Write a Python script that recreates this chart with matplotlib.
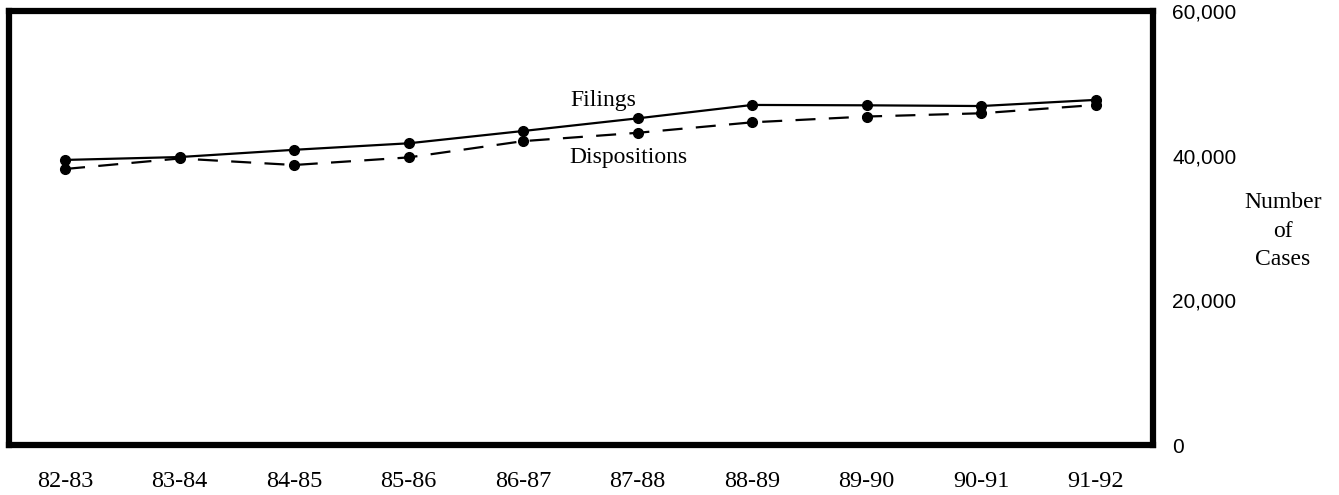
import matplotlib
matplotlib.use("Agg")
import matplotlib.pyplot as plt
from matplotlib.ticker import FuncFormatter

years = ["82-83", "83-84", "84-85", "85-86", "86-87",
         "87-88", "88-89", "89-90", "90-91", "91-92"]
filings = [39400, 39800, 40800, 41700, 43400,
           45150, 47000, 46950, 46850, 47700]
dispositions = [38150, 39600, 38700, 39750, 42000,
                43150, 44600, 45400, 45850, 47000]
y_ticks = [0, 20000, 40000, 60000]

fig = plt.figure(figsize=(13.39, 4.95), dpi=100)
ax = fig.add_axes([0.0067, 0.101, 0.8544, 0.877])

x = list(range(len(years)))
ax.plot(x, filings, color="black", lw=1.6, marker="o", ms=7,
        solid_capstyle="butt")
ax.plot(x, dispositions, color="black", lw=1.6, marker="o", ms=7,
        linestyle=(0, (9, 6)))

ax.set_xlim(-0.49, 9.5)
ax.set_ylim(0, 60000)

ax.set_xticks(x)
ax.set_xticklabels(years, fontfamily="Liberation Serif", fontsize=17.5)
ax.tick_params(axis="x", length=0, pad=19)

ax.yaxis.tick_right()
ax.set_yticks(y_ticks)
ax.yaxis.set_major_formatter(FuncFormatter(lambda v, p: f"{int(v):,}"))
ax.tick_params(axis="y", length=0, pad=14, labelsize=15)
for lab in ax.get_yticklabels():
    lab.set_fontfamily("Liberation Sans")

for side in ax.spines.values():
    side.set_linewidth(4.5)
    side.set_color("black")

ax.text(4.7, 47600, "Filings", fontfamily="Liberation Serif", fontsize=17,
        ha="center", va="center")
ax.text(4.92, 39800, "Dispositions", fontfamily="Liberation Serif",
        fontsize=17, ha="center", va="center")

fig.text(0.958, 0.533, "Number\nof\nCases", fontfamily="Liberation Serif",
         fontsize=17, ha="center", va="center", linespacing=1.45)

fig.savefig("out.png", dpi=100)
